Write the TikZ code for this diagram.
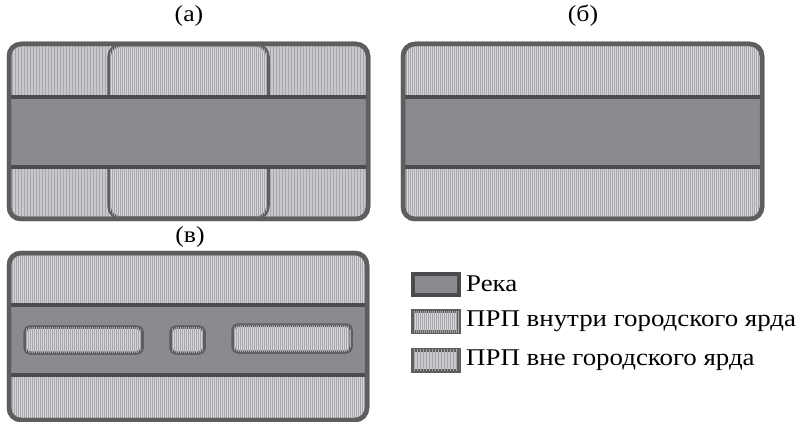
\documentclass[tikz,border=0pt]{standalone}
\usepackage{fontspec}
\setmainfont{Liberation Serif}
\newfontfamily\widefont[FakeStretch=1.12]{Liberation Serif}
\usetikzlibrary{positioning,patterns.meta}

\definecolor{riverfill}{HTML}{8A8B8E}
\definecolor{riverline}{HTML}{4B4B4D}
\definecolor{edge}{HTML}{5E5E60}
\definecolor{innerfill}{HTML}{D6D7D9}
\definecolor{outerfill}{HTML}{C8C9CB}
\definecolor{stripe}{HTML}{A6A7AA}

\begin{document}
\begin{tikzpicture}[%
		x=1pt,y=-1pt,
		frame/.style={draw=edge,line width=4.5pt,rounded corners=12pt},%
		river/.style={draw=riverline,line width=4pt,fill=riverfill},%
		outside/.style={%
			fill=outerfill,
			postaction={pattern={Lines[angle=90,distance=3pt,line width=1pt]},pattern color=stripe}},%
		inside/.style={%
			fill=innerfill,
			postaction={pattern={Lines[angle=90,distance=2pt,line width=.7pt]},pattern color=stripe}},%
		island/.style={inside,draw=edge,line width=3.5pt,rounded corners=5pt},%
		caption/.style={font=\widefont\fontsize{23}{26}\selectfont},%
		keybox/.style={minimum width=46pt,minimum height=21pt,inner sep=0pt,line width=4pt},%
		keytext/.style={font=\widefont\fontsize{24}{28}\selectfont,anchor=west,inner sep=0pt}
		]
		\useasboundingbox (0,0) rectangle (811,422);

		% panel a
		\path[frame,outside] (9,44) rectangle (368,219);
		\path[frame,inside,line width=3.5pt] (109,45) rectangle (268,218);
		\draw[river] (9,97) rectangle (368,167);
		\draw[frame] (9,44) rectangle (368,219);
		\node[caption] (capa) at (189,16) {(а)};

		% panel b
		\path[frame,inside] (403,44) rectangle (762,219);
		\draw[river] (403,97) rectangle (762,167);
		\draw[frame] (403,44) rectangle (762,219);
		\node[caption] (capb) at (583,16) {(б)};

		% panel v
		\path[frame,inside] (9,253) rectangle (367,420);
		\draw[river] (9,305) rectangle (367,375);
		\draw[frame] (9,253) rectangle (367,420);
		\draw[island] (25,327) rectangle (142,353);
		\draw[island] (171,327) rectangle (204,353);
		\draw[island] (233,325) rectangle (351,352);
		\node[caption] (capv) at (190,237) {(в)};

		% legend
		\node[keybox,draw=riverline,fill=riverfill] (riverkey) at (436,284) {};
		\node[keybox,draw=edge,inside] (innerkey) at (436,321.5) {};
		\node[keybox,draw=edge,outside] (outerkey) at (436,360) {};
		\node[keytext,right=5pt of riverkey] (rivertext) {Река};
		\node[keytext,right=5pt of innerkey] (innertext) {ПРП внутри городского ярда};
		\node[keytext,right=5pt of outerkey] (outertext) {ПРП вне городского ярда};
	\end{tikzpicture}
\end{document}
